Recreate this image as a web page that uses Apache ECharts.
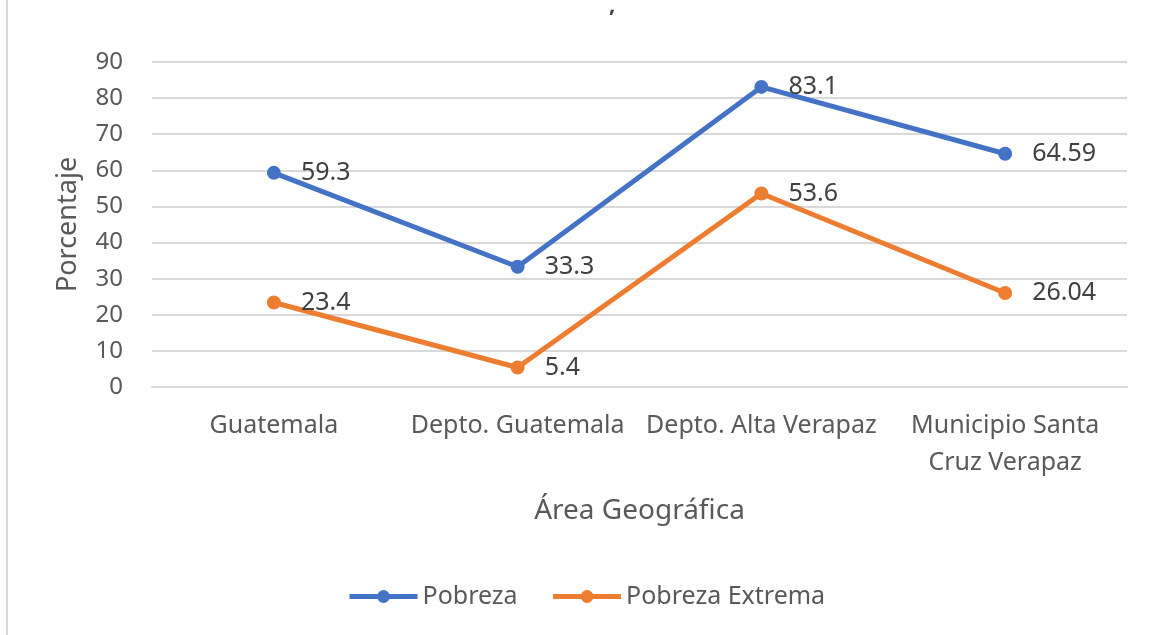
<!DOCTYPE html>
<html>
<head>
<meta charset="utf-8">
<script src="https://cdn.jsdelivr.net/npm/echarts@6/dist/echarts.min.js"></script>
<style>
  html, body { margin: 0; padding: 0; background: #fff; }
  #main { width: 1151px; height: 635px; }
</style>
</head>
<body>
<div id="main"></div>
<script>
var categories = ['Guatemala', 'Depto. Guatemala', 'Depto. Alta Verapaz', 'Municipio Santa\nCruz Verapaz'];
var pobreza = [59.3, 33.3, 83.1, 64.59];
var pobrezaExtrema = [23.4, 5.4, 53.6, 26.04];
var yTicks = { min: 0, max: 90, interval: 10 };

var chart = echarts.init(document.getElementById('main'));
var font = 'Noto Sans';
var txt = '#595959';

function lineSeries(name, data, color) {
  return {
    name: name,
    type: 'line',
    data: data,
    symbol: 'circle',
    symbolSize: 14,
    lineStyle: { width: 5, color: color },
    itemStyle: { color: color },
    label: {
      show: true,
      position: 'right',
      distance: 20,
      fontFamily: font,
      fontSize: 25,
      color: '#404040'
    }
  };
}

var option = {
  backgroundColor: '#ffffff',
  animation: false,
  textStyle: { fontFamily: font },
  grid: { left: 152, right: 24, top: 62, bottom: 248, containLabel: false },
  legend: {
    bottom: 21,
    left: 342,
    itemWidth: 68,
    itemHeight: 16,
    itemGap: 33,
    lineStyle: { width: 5 },
    textStyle: { fontFamily: font, fontSize: 25, color: txt },
    data: ['Pobreza', 'Pobreza Extrema']
  },
  graphic: [
    { type: 'line', shape: { x1: 7, y1: 0, x2: 7, y2: 635 }, style: { stroke: '#d9d9d9', lineWidth: 2 } },
    { type: 'text', left: 609, top: -5, style: { text: ',', font: 'bold 22px "Noto Sans"', fill: '#404040' } }
  ],
  xAxis: {
    type: 'category',
    data: categories,
    name: 'Área Geográfica',
    nameLocation: 'middle',
    nameGap: 110,
    nameTextStyle: { fontFamily: font, fontSize: 28, color: txt },
    axisLine: { show: true, lineStyle: { color: '#d9d9d9', width: 2 } },
    axisTick: { show: false },
    axisLabel: { fontFamily: font, fontSize: 25, color: txt, margin: 20, lineHeight: 37, interval: 0 }
  },
  yAxis: {
    type: 'value',
    min: yTicks.min,
    max: yTicks.max,
    interval: yTicks.interval,
    name: 'Porcentaje',
    nameLocation: 'middle',
    nameGap: 70,
    nameTextStyle: { fontFamily: font, fontSize: 27, color: txt },
    axisLine: { show: false },
    axisTick: { show: false },
    axisLabel: { fontFamily: font, fontSize: 24, color: txt, margin: 29 },
    splitLine: { lineStyle: { color: '#d9d9d9', width: 2 } }
  },
  series: [
    lineSeries('Pobreza', pobreza, '#4472C4'),
    lineSeries('Pobreza Extrema', pobrezaExtrema, '#ED7D31')
  ]
};
chart.setOption(option);
</script>
</body>
</html>
